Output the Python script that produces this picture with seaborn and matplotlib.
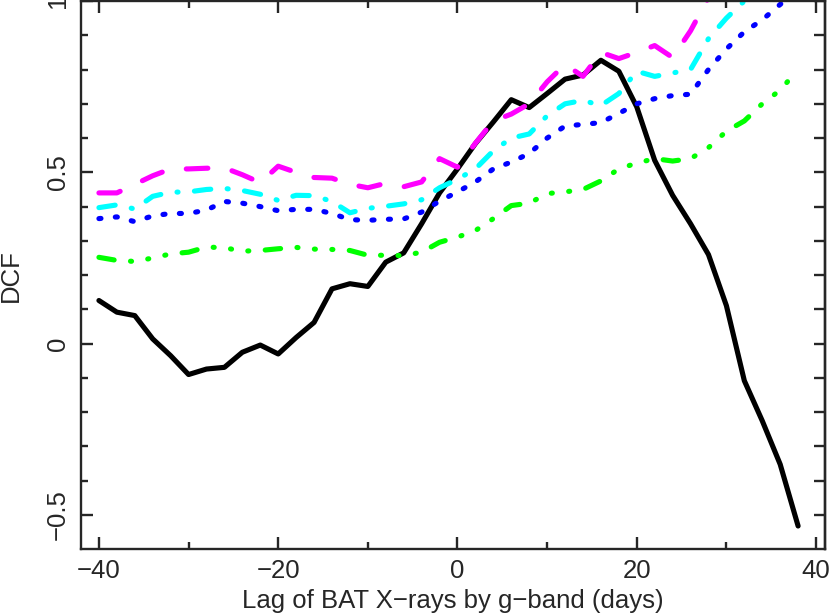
import numpy as np
import pandas as pd
import matplotlib
matplotlib.use("Agg")
import matplotlib.pyplot as plt
import seaborn as sns

# Lags (days) and DCF curves
lags = [-40, -38, -36, -34, -32, -30, -28, -26, -24, -22, -20, -18, -16, -14, -12, -10, -8, -6, -4, -2,
        0, 2, 4, 6, 8, 10, 12, 14, 16, 18, 20, 22, 24, 26, 28, 30, 32, 34, 36, 38]

dcf_black = [0.126, 0.092, 0.082, 0.014, -0.035, -0.090, -0.074, -0.069, -0.025, -0.004,
             -0.030, 0.018, 0.062, 0.160, 0.175, 0.167, 0.238, 0.265, 0.350, 0.440,
             0.510, 0.584, 0.647, 0.712, 0.689, 0.730, 0.772, 0.784, 0.827, 0.795,
             0.691, 0.535, 0.433, 0.350, 0.260, 0.111, -0.108, -0.225, -0.352, -0.532]
dcf_green = [0.252, 0.243, 0.240, 0.250, 0.262, 0.267, 0.282, 0.280, 0.270, 0.272,
             0.277, 0.281, 0.276, 0.275, 0.272, 0.258, 0.258, 0.257, 0.267, 0.296,
             0.311, 0.330, 0.365, 0.403, 0.410, 0.438, 0.443, 0.450, 0.475, 0.510,
             0.527, 0.540, 0.533, 0.540, 0.572, 0.620, 0.650, 0.700, 0.740, 0.800]
dcf_blue = [0.365, 0.370, 0.356, 0.373, 0.380, 0.380, 0.390, 0.415, 0.410, 0.400,
            0.388, 0.392, 0.392, 0.380, 0.362, 0.360, 0.363, 0.364, 0.384, 0.416,
            0.443, 0.472, 0.510, 0.530, 0.555, 0.600, 0.635, 0.640, 0.645, 0.672,
            0.700, 0.715, 0.724, 0.728, 0.800, 0.860, 0.910, 0.945, 0.990, 1.030]
dcf_cyan = [0.397, 0.405, 0.393, 0.430, 0.442, 0.443, 0.450, 0.453, 0.447, 0.436,
            0.418, 0.433, 0.432, 0.415, 0.382, 0.395, 0.401, 0.408, 0.420, 0.455,
            0.480, 0.510, 0.563, 0.600, 0.612, 0.665, 0.700, 0.710, 0.695, 0.730,
            0.795, 0.780, 0.790, 0.800, 0.890, 0.950, 1.000, 1.050, 1.100, 1.150]
dcf_magenta = [0.440, 0.440, 0.465, 0.490, 0.510, 0.510, 0.512, 0.513, 0.493, 0.470,
               0.518, 0.500, 0.485, 0.483, 0.465, 0.455, 0.468, 0.458, 0.472, 0.540,
               0.515, 0.585, 0.650, 0.670, 0.700, 0.764, 0.815, 0.780, 0.850, 0.832,
               0.850, 0.870, 0.835, 0.913, 1.010, 1.060, 1.100, 1.140, 1.180, 1.220]

series_names = ["black", "green", "blue", "cyan", "magenta"]
series_values = [dcf_black, dcf_green, dcf_blue, dcf_cyan, dcf_magenta]
colors = {"black": "#000000", "green": "#00FF00", "blue": "#0000FF",
          "cyan": "#00FFFF", "magenta": "#FF00FF"}
# dash patterns in units of line width
dashes = {"black": "",
          "green": (3, 3.2, 0.2, 3.2, 0.2, 3.2, 0.2, 3.2),
          "blue": (0.4, 2.8),
          "cyan": (3.2, 3.2, 0.2, 3.2),
          "magenta": (4.2, 4.8)}

df = pd.concat([pd.DataFrame({"lag": lags, "dcf": v, "series": n})
                for n, v in zip(series_names, series_values)], ignore_index=True)

sns.set_style("ticks")
plt.rcParams["font.family"] = ["Liberation Sans", "DejaVu Sans"]
plt.rcParams["lines.dash_capstyle"] = "round"
plt.rcParams["lines.solid_capstyle"] = "round"
plt.rcParams["lines.solid_joinstyle"] = "round"

fig = plt.figure(figsize=(8.3, 6.14), dpi=100)
ax = fig.add_axes([81 / 830, 1 - 549.3 / 614, 744 / 830, 548.3 / 614])

sns.lineplot(data=df, x="lag", y="dcf", hue="series", style="series",
             hue_order=series_names, style_order=series_names,
             palette=colors, dashes=dashes, linewidth=3.7, legend=False, ax=ax)

ax.set_xlim(-42, 41)
ax.set_ylim(-0.6, 1.0)

ax.set_xticks([-40, -20, 0, 20, 40], ["\u221240", "\u221220", "0", "20", "40"])
ax.set_xticks([-30, -10, 10, 30], minor=True)
ax.set_yticks([-0.5, 0, 0.5, 1.0], ["\u22120.5", "0", "0.5", "1"])
ax.set_yticks(np.arange(-0.5, 1.01, 0.1), minor=True)

ax.tick_params(which="both", direction="in", top=True, right=False, width=1.7, labelsize=18.5)
ax.tick_params(which="major", length=8.5)
ax.tick_params(which="minor", length=5)
ax.tick_params(axis="x", pad=7)
ax.tick_params(axis="y", pad=8)
for lab in ax.get_yticklabels():
    lab.set_rotation(90)
    lab.set_va("center")

sec = ax.secondary_yaxis("right")
sec.set_yticks(np.arange(-0.5, 1.01, 0.1), [""] * 16)
sec.tick_params(direction="in", length=8, width=1.7)
sec.spines["right"].set_linewidth(1.7)

for s in ax.spines.values():
    s.set_linewidth(1.7)
    s.set_visible(True)

ax.set_xlabel("Lag of BAT X\u2212rays by g\u2212band (days)", fontsize=18.5, labelpad=4)
ax.set_ylabel("DCF", fontsize=18.5)
ax.yaxis.set_label_coords(-0.078, 0.5)

fig.savefig("out.png", dpi=100)
